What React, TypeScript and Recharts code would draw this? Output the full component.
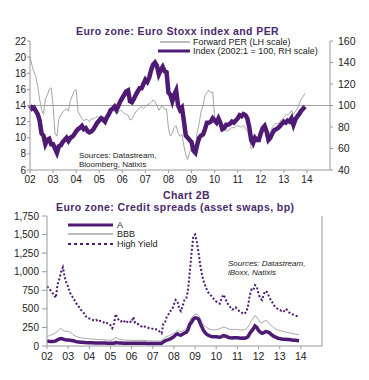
import { Line, LineChart, ReferenceLine, XAxis, YAxis } from "recharts";

const font = '"Liberation Sans", Arial, sans-serif';
const purple = "#4f1a73";
const grey = "#a6a6a6";
const titleColour = "#4b2a6c";
const axisColour = "#9a9a9a";

const yearTicks = [2002, 2003, 2004, 2005, 2006, 2007, 2008, 2009, 2010, 2011, 2012, 2013, 2014];
const perTicks = [6, 8, 10, 12, 14, 16, 18, 20, 22];
const indexTicks = [40, 60, 80, 100, 120, 140, 160];
const spreadTicks = [0, 250, 500, 750, 1000, 1250, 1500, 1750];

// monthly, Jan 2002 .. Dec 2013
const forwardPer = [
  20.1, 19.0, 18.2, 17.6, 16.4, 14.8, 13.5, 12.9, 14.8, 15.3, 16.0, 16.2,
  14.0, 10.5, 10.2, 12.3, 12.8, 13.2, 13.4, 13.6, 13.3, 14.6, 15.2, 15.8,
  16.0, 13.2, 12.8, 12.4, 12.1, 12.3, 12.2, 12.0, 12.4, 12.3, 12.5, 12.6,
  12.5, 12.8, 12.6, 12.5, 12.9, 13.1, 13.0, 13.2, 13.4, 12.9, 13.2, 13.4,
  13.3, 13.0, 12.9, 12.8, 12.2, 12.3, 12.8, 13.2, 13.5, 13.7, 13.9, 13.6,
  13.8, 14.1, 14.2, 14.4, 14.7, 14.5, 14.0, 13.4, 13.8, 13.9, 13.5, 13.6,
  11.2, 10.2, 10.6, 11.3, 11.5, 10.6, 10.2, 10.4, 9.0, 7.9, 7.3, 8.2,
  8.8, 8.5, 8.6, 10.8, 11.8, 13.3, 14.0, 15.2, 15.6, 15.9, 15.6, 15.7,
  12.6, 12.0, 12.3, 11.8, 11.4, 11.0, 10.8, 10.9, 11.0, 11.3, 11.2, 11.4,
  11.5, 11.4, 11.3, 11.5, 11.2, 10.8, 10.3, 8.6, 8.8, 9.8, 9.6, 9.9,
  10.6, 11.0, 11.1, 10.8, 10.5, 10.8, 11.3, 11.6, 11.8, 11.7, 12.0, 12.3,
  12.5, 12.8, 12.9, 13.0, 13.4, 12.9, 13.3, 13.6, 14.2, 14.8, 15.1, 15.5,
];

const stoxxIndex = [
  100, 97, 98, 95, 92, 86, 74, 72, 64, 68, 69, 64,
  64, 60, 56, 62, 63, 66, 68, 70, 67, 70, 71, 73,
  76, 78, 79, 81, 78, 79, 76, 75, 76, 78, 81, 84,
  86, 88, 87, 85, 89, 92, 96, 97, 99, 96, 100, 104,
  107, 110, 113, 114, 104, 103, 106, 110, 113, 116, 116, 120,
  124, 122, 126, 133, 138, 140, 137, 129, 133, 136, 132, 131,
  112, 110, 104, 110, 114, 100, 96, 98, 86, 72, 70, 68,
  66, 58, 56, 64, 70, 72, 73, 78, 84, 84, 85, 88,
  86, 84, 88, 84, 78, 79, 82, 82, 83, 85, 84, 86,
  88, 91, 90, 92, 91, 88, 80, 68, 65, 70, 68, 68,
  74, 79, 81, 76, 68, 70, 74, 77, 78, 79, 81, 83,
  85, 84, 86, 85, 88, 82, 87, 90, 92, 95, 97, 99,
];

const spreadA = [
  65, 65, 62, 60, 62, 70, 85, 95, 100, 95, 85, 80,
  80, 78, 75, 70, 62, 58, 55, 52, 50, 48, 46, 45,
  45, 44, 43, 42, 42, 42, 41, 40, 40, 39, 38, 38,
  37, 36, 38, 45, 42, 40, 39, 38, 37, 37, 38, 38,
  37, 36, 36, 36, 37, 37, 37, 36, 36, 35, 35, 35,
  34, 34, 34, 34, 34, 36, 55, 70, 80, 85, 95, 110,
  125, 150, 165, 150, 145, 160, 175, 185, 220, 290, 320, 360,
  380, 375, 360, 300, 250, 200, 170, 150, 140, 130, 125, 125,
  125, 120, 118, 125, 140, 135, 125, 115, 110, 108, 110, 112,
  110, 108, 105, 106, 105, 110, 125, 170, 200, 230, 270, 250,
  210, 185, 170, 180, 195, 190, 180, 160, 140, 125, 115, 105,
  100, 95, 92, 90, 88, 86, 84, 80, 78, 76, 74, 72,
];

const spreadBBB = [
  130, 135, 145, 155, 165, 180, 200, 225, 235, 210, 200, 195,
  200, 185, 170, 150, 135, 125, 118, 112, 108, 105, 100, 98,
  96, 94, 92, 90, 90, 88, 86, 85, 84, 82, 80, 80,
  78, 80, 95, 120, 100, 90, 85, 82, 80, 78, 78, 78,
  76, 75, 74, 74, 76, 76, 75, 74, 72, 70, 70, 70,
  68, 68, 68, 68, 68, 72, 95, 115, 130, 135, 145, 160,
  170, 190, 210, 200, 190, 205, 220, 235, 270, 340, 380, 410,
  425, 430, 410, 370, 320, 280, 255, 240, 230, 220, 218, 215,
  220, 225, 230, 245, 255, 250, 240, 230, 225, 220, 222, 225,
  220, 218, 215, 218, 220, 230, 255, 300, 340, 370, 410, 390,
  350, 320, 310, 330, 345, 335, 300, 280, 265, 240, 225, 215,
  210, 200, 195, 190, 185, 180, 175, 170, 165, 160, 155, 150,
];

const spreadHY = [
  800, 780, 750, 720, 680, 650, 830, 900, 1000, 1060, 930, 850,
  800, 720, 680, 640, 600, 560, 530, 490, 470, 440, 400, 380,
  370, 360, 350, 340, 350, 330, 340, 330, 320, 300, 310, 300,
  280, 240, 300, 430, 380, 340, 330, 350, 330, 310, 340, 330,
  320, 390, 310, 300, 290, 270, 260, 270, 250, 250, 240, 240,
  230, 220, 225, 215, 190, 170, 300, 320, 400, 430, 470, 490,
  560, 620, 600, 500, 470, 540, 620, 640, 750, 1000, 1250, 1480,
  1500, 1400, 1250, 1080, 950, 860, 800, 740, 700, 680, 650, 620,
  600, 580, 570, 640, 690, 650, 590, 550, 520, 490, 500, 520,
  500, 470, 460, 440, 430, 460, 530, 680, 760, 750, 820, 800,
  700, 640, 620, 700, 740, 720, 660, 620, 580, 540, 510, 500,
  490, 470, 480, 460, 490, 460, 440, 430, 420, 410, 400, 390,
];

const months = forwardPer.map((_, i) => 2002 + i / 12);
const stoxxRows = months.map((t, i) => ({ t, per: forwardPer[i], index: stoxxIndex[i] }));
const spreadRows = months.map((t, i) => ({ t, a: spreadA[i], bbb: spreadBBB[i], hy: spreadHY[i] }));

const yearLabel = (v: number) => String(v).slice(2);
const thousands = (v: number) => v.toLocaleString("en-US");
const tickStyle = { fontSize: 10, fill: "#222", fontFamily: font };
const rightTickStyle = { fontSize: 10.5, fill: "#222", fontFamily: font };

function Text({ x, y, size, children, style }: { x: number; y: number; size: number; children: any; style?: any }) {
  return (
    <div
      style={{
        position: "absolute",
        left: x,
        top: y - size / 2,
        fontSize: size,
        lineHeight: 1,
        fontFamily: font,
        whiteSpace: "nowrap",
        color: "#222",
        ...style,
      }}
    >
      {children}
    </div>
  );
}

function Swatch({ x, y, w, colour, thick, dash }: { x: number; y: number; w: number; colour: string; thick: number; dash?: string }) {
  return (
    <svg style={{ position: "absolute", left: x, top: y - 4 }} width={w} height={8}>
      <line x1={0} y1={4} x2={w} y2={4} stroke={colour} strokeWidth={thick} strokeDasharray={dash} />
    </svg>
  );
}

function StoxxChart() {
  return (
    <div style={{ position: "absolute", left: 0, top: 0 }}>
      <LineChart width={369} height={195} data={stoxxRows} margin={{ top: 41, right: 0, bottom: 0, left: 0 }}>
        <XAxis
          dataKey="t"
          type="number"
          domain={[2002, 2015]}
          ticks={yearTicks}
          tickFormatter={yearLabel}
          tick={tickStyle}
          height={25}
          stroke={axisColour}
          tickSize={3}
          tickMargin={3}
        />
        <YAxis
          yAxisId="left"
          domain={[6, 22]}
          ticks={perTicks}
          tick={tickStyle}
          width={30}
          stroke={axisColour}
          tickSize={3}
          tickMargin={1}
          interval={0}
        />
        <YAxis
          yAxisId="right"
          orientation="right"
          domain={[40, 160]}
          ticks={indexTicks}
          tick={rightTickStyle}
          width={39}
          stroke={axisColour}
          tickSize={3}
          tickMargin={5}
          interval={0}
        />
        <ReferenceLine yAxisId="left" y={14} stroke="#a0a0a0" strokeWidth={1} />
        <Line yAxisId="left" dataKey="per" stroke={grey} strokeWidth={1} dot={false} isAnimationActive={false} />
        <Line yAxisId="right" dataKey="index" stroke={purple} strokeWidth={4.5} dot={false} isAnimationActive={false} />
      </LineChart>
    </div>
  );
}

function SpreadChart() {
  return (
    <div style={{ position: "absolute", left: 0, top: 190 }}>
      <LineChart width={369} height={190} data={spreadRows} margin={{ top: 26, right: 0, bottom: 0, left: 0 }}>
        <XAxis
          dataKey="t"
          type="number"
          domain={[2002, 2015]}
          ticks={yearTicks}
          tickFormatter={yearLabel}
          tick={{ ...tickStyle, fontSize: 10.5 }}
          height={34}
          stroke={axisColour}
          tickSize={3}
          tickMargin={4}
        />
        <YAxis
          yAxisId="left"
          domain={[0, 1750]}
          ticks={spreadTicks}
          tickFormatter={thousands}
          tick={tickStyle}
          width={47}
          stroke={axisColour}
          tickSize={5}
          tickMargin={3}
          interval={0}
        />
        <YAxis
          yAxisId="right"
          orientation="right"
          domain={[0, 1750]}
          ticks={spreadTicks}
          tickFormatter={thousands}
          tick={rightTickStyle}
          width={47}
          stroke={axisColour}
          tickSize={3}
          tickMargin={5}
          interval={0}
        />
        <Line yAxisId="left" dataKey="hy" stroke={purple} strokeWidth={2} strokeDasharray="2 2" dot={false} isAnimationActive={false} />
        <Line yAxisId="left" dataKey="bbb" stroke={grey} strokeWidth={1} dot={false} isAnimationActive={false} />
        <Line yAxisId="left" dataKey="a" stroke={purple} strokeWidth={3.5} dot={false} isAnimationActive={false} />
      </LineChart>
    </div>
  );
}

export default function App() {
  return (
    <div style={{ position: "absolute", left: 0, top: 0, width: 369, height: 380, background: "#fff", overflow: "hidden" }}>
      <StoxxChart />
      <SpreadChart />

      <Text x={76} y={31} size={10.5} style={{ fontWeight: "bold", color: titleColour, letterSpacing: 0.4 }}>
        Euro zone: Euro Stoxx index and PER
      </Text>
      <Swatch x={160} y={42} w={30} colour={grey} thick={1.5} />
      <Text x={193} y={42} size={9}>Forward PER (LH scale)</Text>
      <Swatch x={158} y={51} w={32} colour={purple} thick={3} />
      <Text x={193} y={51} size={9}>Index (2002:1 = 100, RH scale)</Text>
      <Text x={79} y={156} size={8}>Sources: Datastream,</Text>
      <Text x={79} y={165} size={8}>Bloomberg, Natixis</Text>

      <Text x={163} y={195} size={10.5} style={{ fontWeight: "bold", color: titleColour, letterSpacing: 0.4 }}>
        Chart 2B
      </Text>
      <Text x={56} y={207} size={10.5} style={{ fontWeight: "bold", color: titleColour, letterSpacing: 0.4 }}>
        Euro zone: Credit spreads (asset swaps, bp)
      </Text>
      <Swatch x={68} y={225} w={45} colour={purple} thick={3} />
      <Text x={117} y={225} size={9}>A</Text>
      <Swatch x={68} y={234} w={45} colour={grey} thick={1.5} />
      <Text x={117} y={234} size={9}>BBB</Text>
      <Swatch x={68} y={244} w={45} colour={purple} thick={2} dash="3 3" />
      <Text x={117} y={244} size={9}>High Yield</Text>
      <Text x={228} y={264} size={8} style={{ fontStyle: "italic" }}>Sources: Datastream,</Text>
      <Text x={228} y={273} size={8} style={{ fontStyle: "italic" }}>iBoxx, Natixis</Text>
    </div>
  );
}
